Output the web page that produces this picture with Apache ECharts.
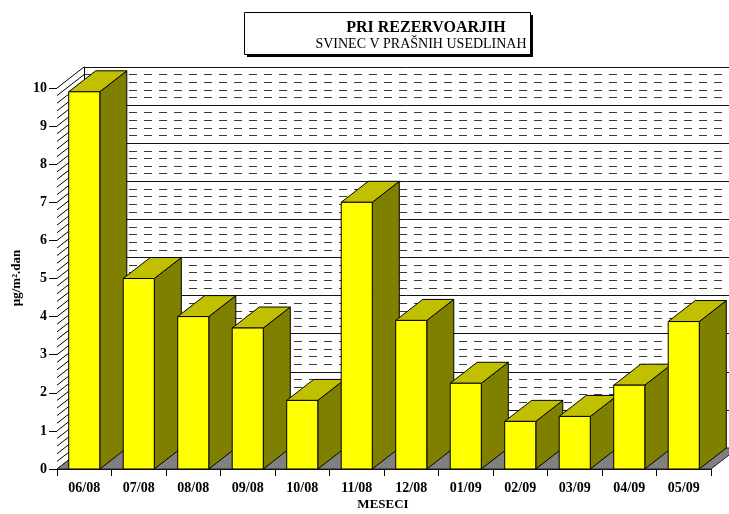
<!DOCTYPE html>
<html>
<head>
<meta charset="utf-8">
<title>PRI REZERVOARJIH</title>
<script src="https://cdn.jsdelivr.net/npm/echarts@6/dist/echarts.min.js"></script>
<style>
  html, body { margin: 0; padding: 0; background: #fff; }
  #chart { width: 729px; height: 514px; }
</style>
</head>
<body>
<div id="chart"></div>
<script>
// Monthly lead deposition in settled dust (µg/m².dan)
const months = ['06/08', '07/08', '08/08', '09/08', '10/08', '11/08', '12/08', '01/09', '02/09', '03/09', '04/09', '05/09'];
const leadValues = [9.9, 5.0, 4.0, 3.7, 1.8, 7.0, 3.9, 2.25, 1.25, 1.38, 2.2, 3.87];
const yTicks = [0, 1, 2, 3, 4, 5, 6, 7, 8, 9, 10];

const titleText = 'PRI REZERVOARJIH';
const subtitleText = 'SVINEC V PRAŠNIH USEDLINAH';
const yTitle = 'µg/m².dan';
const xTitle = 'MESECI';

// 3D depth offset of the plot box (px)
const DX = 27, DY = -21;
const SERIF = "'Liberation Serif', 'DejaVu Serif', serif";

const W = 729, H = 514;
const front = { left: 57, right: 18, top: 88, bottom: 45 };
const back = {
  left: front.left + DX,
  right: front.right - DX,
  top: front.top + DY,
  bottom: front.bottom - DY
};

const chart = echarts.init(document.getElementById('chart'), null, { renderer: 'canvas' });

// floor, side wall and its hatching
function renderWalls(params, api) {
  const band = api.size([1, 0])[0];
  const n = months.length;
  const origin = api.coord([0, 0]);
  const x0 = origin[0] - band / 2;
  const y0 = origin[1];
  const x1 = api.coord([n - 1, 0])[0] + band / 2;
  const yMax = api.coord([0, yTicks[yTicks.length - 1]])[1];
  const children = [];
  // side wall (white)
  children.push({
    type: 'polygon',
    shape: { points: [[x0, y0], [x0 + DX, y0 + DY], [x0 + DX, yMax + DY], [x0, yMax]] },
    style: { fill: '#ffffff', stroke: null }
  });
  // hatching on the side wall at every minor step
  const top = yTicks[yTicks.length - 1];
  for (let i = 0; i <= top * 5; i++) {
    const y = api.coord([0, i / 5])[1];
    children.push({
      type: 'line',
      shape: { x1: x0, y1: y, x2: x0 + DX, y2: y + DY },
      style: { stroke: '#000', lineWidth: 1 }
    });
  }
  // floor
  children.push({
    type: 'polygon',
    shape: { points: [[x0, y0], [x1, y0], [x1 + DX, y0 + DY], [x0 + DX, y0 + DY]] },
    style: { fill: '#808080', stroke: '#222', lineWidth: 1 }
  });
  return { type: 'group', children: children };
}

// 3D bar: front, side and top faces
function renderBar(params, api) {
  const cat = api.value(0);
  const val = api.value(1);
  const band = api.size([1, 0])[0];
  const w = band * 0.57;
  const topPt = api.coord([cat, val]);
  const basePt = api.coord([cat, 0]);
  const xl = topPt[0] - w / 2, xr = topPt[0] + w / 2;
  const yt = topPt[1], yb = basePt[1];
  const edge = { stroke: '#000', lineWidth: 1, lineJoin: 'round' };
  return {
    type: 'group',
    children: [
      {
        type: 'polygon',
        shape: { points: [[xr, yt], [xr + DX, yt + DY], [xr + DX, yb + DY], [xr, yb]] },
        style: Object.assign({ fill: '#808000' }, edge)
      },
      {
        type: 'polygon',
        shape: { points: [[xl, yt], [xr, yt], [xr + DX, yt + DY], [xl + DX, yt + DY]] },
        style: Object.assign({ fill: '#c0c000' }, edge)
      },
      {
        type: 'rect',
        shape: { x: xl, y: yt, width: w, height: yb - yt },
        style: Object.assign({ fill: '#ffff00' }, edge)
      }
    ]
  };
}

const boxX = 244, boxY = 12, boxW = 286, boxH = 42;

const option = {
  animation: false,
  backgroundColor: '#ffffff',
  grid: [
    Object.assign({ containLabel: false }, front),
    Object.assign({ containLabel: false }, back)
  ],
  xAxis: [
    {
      type: 'category',
      gridIndex: 0,
      data: months,
      boundaryGap: true,
      axisLine: { lineStyle: { color: '#000', width: 1 } },
      axisTick: { show: true, length: 7, lineStyle: { color: '#000' } },
      axisLabel: {
        interval: 0, margin: 12, color: '#000',
        fontFamily: SERIF, fontWeight: 'bold', fontSize: 14
      },
      splitLine: { show: false }
    },
    {
      type: 'category',
      gridIndex: 1,
      data: months,
      show: false
    }
  ],
  yAxis: [
    {
      type: 'value',
      gridIndex: 0,
      min: yTicks[0],
      max: yTicks[yTicks.length - 1],
      interval: 1,
      axisLine: { show: true, lineStyle: { color: '#000', width: 1 } },
      axisTick: { show: true, length: 8, lineStyle: { color: '#000' } },
      axisLabel: {
        margin: 10, color: '#000',
        fontFamily: SERIF, fontWeight: 'bold', fontSize: 14
      },
      splitLine: { show: false }
    },
    {
      type: 'value',
      gridIndex: 1,
      min: yTicks[0],
      max: yTicks[yTicks.length - 1],
      interval: 1,
      axisLine: { show: true, lineStyle: { color: '#000', width: 1 } },
      axisTick: { show: false },
      axisLabel: { show: false },
      splitLine: { show: true, lineStyle: { color: '#111', width: 1 } },
      minorTick: { show: false, splitNumber: 5 },
      minorSplitLine: { show: true, lineStyle: { color: '#3a3a3a', width: 1, type: [8, 7] } }
    }
  ],
  series: [
    {
      type: 'custom',
      name: 'walls',
      xAxisIndex: 0,
      yAxisIndex: 0,
      data: [[0, 0]],
      renderItem: renderWalls,
      silent: true,
      z: 1
    },
    {
      type: 'custom',
      name: 'svinec',
      xAxisIndex: 0,
      yAxisIndex: 0,
      data: leadValues.map((v, i) => [i, v]),
      encode: { x: 0, y: 1 },
      renderItem: renderBar,
      z: 2
    }
  ],
  graphic: [
    {
      type: 'rect', left: boxX + 3, top: boxY + 3, z: 10,
      shape: { width: boxW, height: boxH },
      style: { fill: '#000' }
    },
    {
      type: 'rect', left: boxX, top: boxY, z: 11,
      shape: { width: boxW, height: boxH },
      style: { fill: '#fff', stroke: '#000', lineWidth: 1 }
    },
    {
      type: 'text', x: 426, y: 28, z: 12,
      style: {
        text: titleText, fill: '#000', align: 'center', verticalAlign: 'middle',
        font: "bold 16px " + SERIF
      }
    },
    {
      type: 'text', x: 421, y: 44, z: 12,
      style: {
        text: subtitleText, fill: '#000', align: 'center', verticalAlign: 'middle',
        font: "14px " + SERIF
      }
    },
    {
      type: 'text', x: 383, y: 505, z: 12,
      style: {
        text: xTitle, fill: '#000', align: 'center', verticalAlign: 'middle',
        font: "bold 13px " + SERIF
      }
    },
    {
      type: 'text', x: 17, y: 278, z: 12, rotation: Math.PI / 2,
      style: {
        text: yTitle, fill: '#000', align: 'center', verticalAlign: 'middle',
        font: "bold 13px " + SERIF
      }
    }
  ]
};

chart.setOption(option);
</script>
</body>
</html>
